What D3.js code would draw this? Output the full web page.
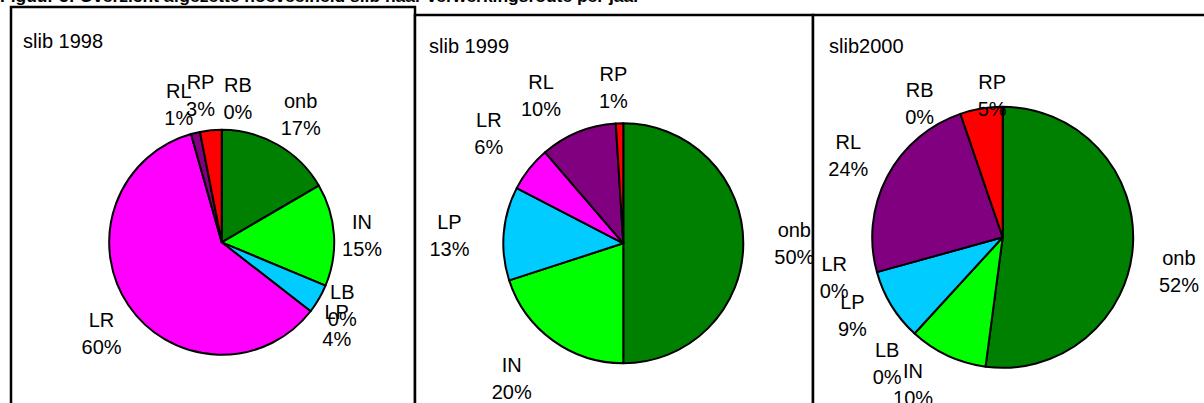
<!DOCTYPE html>
<html>
<head>
<meta charset="utf-8">
<script src="https://d3js.org/d3.v7.min.js"></script>
<style>
  body { margin: 0; background: #fff; }
  text { font-family: Arial, "Liberation Sans", sans-serif; fill: #000; }
</style>
</head>
<body>
<div id="widget"></div>
<script>
// data (percent of the year's total)
const caption = 'Figuur 5: Overzicht afgezette hoeveelheid slib naar verwerkingsroute per jaar';
const titles = ['slib 1998', 'slib 1999', 'slib2000'];

const cats1998 = ['onb', 'IN', 'LB', 'LP', 'LR', 'RL', 'RP', 'RB'];
const vals1998 = [16.6, 14.7, 0, 4.2, 60.1, 1.3, 3.1, 0];

const cats1999 = ['onb', 'IN', 'LP', 'LR', 'RL', 'RP'];
const vals1999 = [50.0, 20.0, 12.6, 6.1, 10.3, 1.0];

const cats2000 = ['onb', 'IN', 'LB', 'LP', 'LR', 'RL', 'RB', 'RP'];
const vals2000 = [52.1, 9.7, 0, 8.9, 0, 24.05, 0, 5.25];

const catColors = {
  onb: '#008000', IN: '#00ff00', LB: '#3366ff', LP: '#00ccff',
  LR: '#ff00ff', RL: '#800080', RP: '#ff0000', RB: '#ffff00'
};

// panel layout
const panels = [
  { x: 11, y: 7, w: 404, cx: 221.7, cy: 242.3, r: 112.5, pad: 12, rot: 0, tx: 23, ty: 48 },
  { x: 415, y: 15, w: 398, cx: 623.3, cy: 243.3, r: 120, pad: 29, rot: 0, tx: 429, ty: 53 },
  { x: 813, y: 15, w: 420, cx: 1002.7, cy: 237.3, r: 130.5, pad: 18, rot: 5, tx: 829, ty: 53 }
];
// hand placement of some labels, like the original: [degrees, px outward]
const labelNudge = [
  { onb: [2, 5], IN: [1, -4], LB: [4, -4], LP: [4.5, 1], LR: [-3, 6], RL: [-4.5, 0], RP: [-3, 3], RB: [6.7, 0] },
  { onb: [0, 2], IN: [3.6, 6], LP: [-2, 5], LR: [0, 8], RL: [-7, 0], RP: [-2, -13] },
  { onb: [2.2, 11], IN: [1.5, 3], LB: [-4, 5], LP: [0, 5], LR: [-2.5, 10], RL: [-5, 6], RB: [-19, -10], RP: [0, -27] }
];
const series = [
  { cats: cats1998, vals: vals1998 },
  { cats: cats1999, vals: vals1999 },
  { cats: cats2000, vals: vals2000 }
];

const W = 1204, H = 403;
const fontSize = 20, lineGap = 27;

const svg = d3.select('#widget').append('svg')
  .attr('width', W).attr('height', H);

svg.append('text')
  .attr('x', 0).attr('y', 2)
  .attr('font-size', 16)
  .attr('font-weight', 'bold')
  .attr('textLength', 640)
  .attr('lengthAdjust', 'spacingAndGlyphs')
  .text(caption);

const pie = d3.pie().sort(null).value((d) => d.v);
const rad = Math.PI / 180;

panels.forEach((p, i) => {
  const s = series[i];
  const rows = s.cats.map((c, k) => ({ cat: c, v: s.vals[k] }));
  const total = d3.sum(rows, (d) => d.v);
  const arcs = pie(rows);
  const arc = d3.arc().innerRadius(0).outerRadius(p.r);

  const g = svg.append('g');

  g.append('rect')
    .attr('x', p.x).attr('y', p.y)
    .attr('width', p.w).attr('height', H + 20)
    .attr('fill', '#fff')
    .attr('stroke', '#000')
    .attr('stroke-width', 2.5);

  g.append('text')
    .attr('x', p.tx).attr('y', p.ty)
    .attr('font-size', fontSize)
    .text(titles[i]);

  const pieG = g.append('g').attr('transform', `translate(${p.cx},${p.cy})`);

  pieG.selectAll('path')
    .data(arcs.filter((d) => d.data.v > 0))
    .enter()
    .append('path')
    .attr('d', arc)
    .attr('fill', (d) => catColors[d.data.cat])
    .attr('stroke', '#000')
    .attr('stroke-width', 2)
    .attr('stroke-linejoin', 'round');

  // labels outside the pie, pushed out by their own size
  arcs.forEach((d) => {
    const nudge = labelNudge[i][d.data.cat] || [0, 0];
    const a = (d.startAngle + d.endAngle) / 2 + (p.rot + nudge[0]) * rad;
    const ux = Math.sin(a), uy = -Math.cos(a);
    const lab = pieG.append('text')
      .attr('font-size', fontSize)
      .attr('text-anchor', 'middle');
    lab.append('tspan').attr('x', 0).attr('y', 0).text(d.data.cat);
    lab.append('tspan').attr('x', 0).attr('y', lineGap)
      .text(Math.round((d.data.v / total) * 100) + '%');
    let wMax = 0;
    lab.selectAll('tspan').each(function () {
      wMax = Math.max(wMax, this.getComputedTextLength());
    });
    const hw = wMax / 2;
    const hh = (lineGap + fontSize * 0.716) / 2;
    const dist = p.r + p.pad + nudge[1];
    const bx = dist * ux + hw * ux;
    const by = dist * uy + hh * uy;
    // block centre sits halfway between cap top of line 1 and baseline of line 2
    const off = (lineGap - fontSize * 0.716) / 2;
    lab.attr('transform', `translate(${bx},${by - off})`);
  });
});
</script>
</body>
</html>
